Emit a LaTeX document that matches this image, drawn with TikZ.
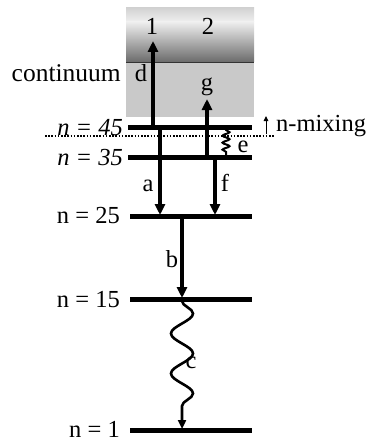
\documentclass[tikz,border=0pt]{standalone}
\usepackage{fontspec}
\setmainfont{Liberation Serif}
\usetikzlibrary{arrows.meta,decorations.pathmorphing}
\begin{document}
\begin{tikzpicture}[x=1pt,y=-1pt,
  lvl/.style={line width=5pt},
  tr/.style={line width=3.2pt,-{Triangle[length=11pt,width=10pt]}},
  wav/.style={line width=2.6pt,decorate,decoration={snake,segment length=40pt,amplitude=11pt,post length=8pt}},
  lab/.style={font=\fontsize{24.5}{24.5}\selectfont,inner sep=0pt}]
\useasboundingbox (0,0) rectangle (368,441);
% continuum box
\shade[top color=gray!35,bottom color=gray!12] (126,8) rectangle (254,22);
\shade[top color=gray!12,bottom color=black!58] (126,21.5) rectangle (254,62);
\fill[gray!42] (126,62) rectangle (254,117);
\coordinate (cw) at (126,62.5);
\coordinate (ce) at (254,62.5);
\draw[line width=1.6pt,black!80] (cw) -- (ce);
% levels
\coordinate (L45w) at (128,127); \coordinate (L45e) at (252,127);
\coordinate (L35w) at (128,157); \coordinate (L35e) at (252,157);
\coordinate (L25w) at (130,216); \coordinate (L25e) at (252,216);
\coordinate (L15w) at (130,299); \coordinate (L15e) at (252,299);
\coordinate (L1w) at (130,430);  \coordinate (L1e) at (252,430);
\foreach \l in {45,35,25,15,1} \draw[lvl] (L\l w) -- (L\l e);
% dotted line
\coordinate (dw) at (45,136); \coordinate (de) at (275,136);
\draw[line width=1.8pt,dash pattern=on 1.6pt off 1.6pt] (dw) -- (de);
% arrows
\coordinate (d0) at (153,127); \coordinate (d1) at (153,41);
\draw[tr] (d0) -- (d1);
\coordinate (a0) at (160,127); \coordinate (a1) at (160,215);
\draw[tr] (a0) -- (a1);
\coordinate (g0) at (207,157); \coordinate (g1) at (207,99);
\draw[tr] (g0) -- (g1);
\coordinate (f0) at (215,157); \coordinate (f1) at (215,215);
\draw[tr] (f0) -- (f1);
\coordinate (b0) at (182,216); \coordinate (b1) at (182,298);
\draw[tr] (b0) -- (b1);
\coordinate (c0) at (182,301); \coordinate (c1) at (182,429);
\draw[wav,-{Triangle[length=9pt,width=8pt]}] (c0) -- (c1);
\coordinate (e0) at (226,129); \coordinate (e1) at (226,155);
\draw[line width=2pt,decorate,decoration={snake,segment length=7pt,amplitude=3.5pt,pre length=1pt,post length=1pt}] (e0) -- (e1);
% n-mixing arrow
\coordinate (m0) at (266,134); \coordinate (m1) at (266,116);
\draw[line width=1pt,-{Triangle[length=5pt,width=4.5pt]}] (m0) -- (m1);
% labels
\node[lab,anchor=base east] (t45) at (123,135) {\textit{n = 45}};
\node[lab,anchor=base east] (t35) at (123,165) {\textit{n = 35}};
\node[lab,anchor=base east] (t25) at (120,223) {n = 25};
\node[lab,anchor=base east] (t15) at (120,307) {n = 15};
\node[lab,anchor=base east] (t1) at (120,437) {n = 1};
\node[lab,anchor=base east,font=\fontsize{25.5}{25.5}\selectfont] (tc) at (121,82) {continuum};
\node[lab,anchor=base] (t1c) at (152,35) {1};
\node[lab,anchor=base] (t2c) at (208,35) {2};
\node[lab,anchor=base] (td) at (141,82) {d};
\node[lab,anchor=base] (tg) at (207,91) {g};
\node[lab,anchor=base west] (tm) at (276,131) {n-mixing};
\node[lab,anchor=base] (ta) at (148,191) {a};
\node[lab,anchor=base] (tf) at (225,191) {f};
\node[lab,anchor=base] (te) at (243,152) {e};
\node[lab,anchor=base] (tb) at (172,267) {b};
\node[lab,anchor=base] (tcl) at (191,368) {c};
\end{tikzpicture}
\end{document}
